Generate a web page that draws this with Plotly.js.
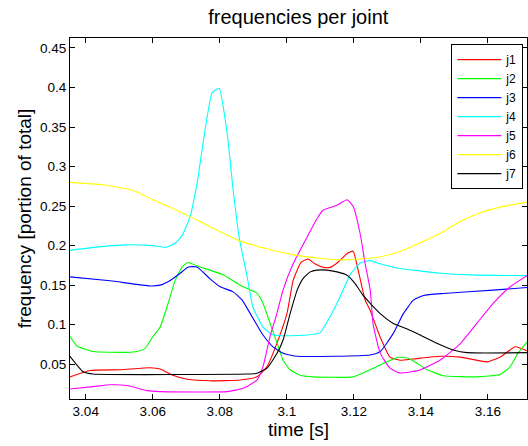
<!DOCTYPE html>
<html>
<head>
<meta charset="utf-8">
<script src="https://cdn.plot.ly/plotly-3.0.1.min.js"></script>
<style>html,body{margin:0;padding:0;background:#fff;}#chart{width:528px;height:446px;}</style>
</head>
<body>
<div id="chart"></div>
<script>
// ---- data ----
const seriesNames = ["j1","j2","j3","j4","j5","j6","j7"];
const seriesColors = ["#ff0000","#00ff00","#0000ff","#00ffff","#ff00ff","#ffff00","#000000"];

const t1 = [3.0353,3.0413,3.0502,3.0592,3.0622,3.0660,3.0703,3.0771,3.0861,3.0911,3.0941,3.0971,3.1001,3.1019,3.1043,3.1064,3.1084,3.1109,3.1129,3.1153,3.1180,3.1198,3.1213,3.1234,3.1249,3.1279,3.1308,3.1338,3.1378,3.1458,3.1518,3.1598,3.1637,3.1682,3.1717];
const j1 = [0.034,0.042,0.043,0.0455,0.044,0.036,0.031,0.029,0.030,0.034,0.047,0.077,0.115,0.156,0.179,0.183,0.177,0.1725,0.1725,0.179,0.190,0.193,0.169,0.131,0.118,0.084,0.059,0.055,0.0566,0.060,0.059,0.053,0.059,0.072,0.067];

const t2 = [3.0353,3.0374,3.0422,3.0523,3.0553,3.0577,3.0601,3.0622,3.0643,3.0667,3.0688,3.0705,3.0741,3.0771,3.0810,3.0861,3.0891,3.0911,3.0929,3.0950,3.0971,3.0989,3.1010,3.1040,3.1079,3.1198,3.1249,3.1299,3.1333,3.1363,3.1389,3.1419,3.1467,3.1567,3.1637,3.1667,3.1690,3.1717];
const j2 = [0.085,0.073,0.066,0.065,0.066,0.070,0.085,0.097,0.123,0.156,0.173,0.1787,0.173,0.169,0.163,0.150,0.144,0.140,0.127,0.102,0.077,0.055,0.043,0.036,0.034,0.034,0.043,0.053,0.0587,0.0575,0.051,0.043,0.0355,0.034,0.037,0.047,0.064,0.078];

const t3 = [3.0353,3.0473,3.0592,3.0622,3.0652,3.0682,3.0706,3.0732,3.0771,3.0801,3.0840,3.0867,3.0891,3.0920,3.0929,3.0959,3.0989,3.1031,3.1249,3.1279,3.1318,3.1348,3.1378,3.1408,3.1467,3.1616,3.1717];
const j3 = [0.1605,0.1555,0.149,0.150,0.156,0.165,0.173,0.173,0.158,0.148,0.1415,0.131,0.114,0.093,0.087,0.072,0.0638,0.060,0.0616,0.066,0.089,0.114,0.131,0.137,0.1395,0.1437,0.147];

const t4 = [3.0353,3.0450,3.0520,3.0600,3.0640,3.0667,3.0688,3.0712,3.0732,3.0777,3.0798,3.0822,3.0840,3.0858,3.0882,3.0899,3.0929,3.0959,3.1001,3.1061,3.1100,3.1129,3.1159,3.1189,3.1219,3.1249,3.1278,3.1338,3.1398,3.1458,3.1547,3.1717];
const j4 = [0.194,0.199,0.201,0.200,0.198,0.203,0.213,0.237,0.278,0.393,0.399,0.342,0.270,0.210,0.160,0.122,0.097,0.087,0.086,0.087,0.090,0.110,0.135,0.163,0.178,0.181,0.177,0.171,0.168,0.165,0.163,0.162];

const t5 = [3.0353,3.0422,3.0473,3.0523,3.0583,3.0622,3.0822,3.0870,3.0911,3.0929,3.0950,3.0971,3.0989,3.1019,3.1061,3.1090,3.1109,3.1150,3.1180,3.1198,3.1219,3.1234,3.1249,3.1258,3.1279,3.1308,3.1338,3.1398,3.1458,3.1518,3.1567,3.1616,3.1667,3.1717];
const j5 = [0.0187,0.0216,0.024,0.023,0.0166,0.0153,0.0153,0.0196,0.030,0.047,0.085,0.115,0.144,0.177,0.211,0.234,0.245,0.251,0.258,0.2497,0.215,0.177,0.144,0.100,0.064,0.045,0.039,0.0427,0.0553,0.076,0.1016,0.127,0.148,0.162];

const t6 = [3.0353,3.0450,3.0540,3.0600,3.0660,3.0710,3.0780,3.0860,3.0950,3.1025,3.1100,3.1160,3.1220,3.1280,3.1340,3.1400,3.1460,3.1520,3.1580,3.1640,3.1717];
const j6 = [0.280,0.277,0.270,0.258,0.247,0.237,0.222,0.206,0.195,0.188,0.184,0.182,0.183,0.186,0.193,0.204,0.216,0.231,0.242,0.249,0.255];

const t7 = [3.0353,3.0392,3.0422,3.0882,3.0911,3.0941,3.0971,3.0989,3.1010,3.1031,3.1049,3.1070,3.1090,3.1120,3.1150,3.1180,3.1204,3.1228,3.1249,3.1279,3.1318,3.1358,3.1398,3.1448,3.1497,3.1538,3.1717];
const j7 = [0.0600,0.0405,0.0376,0.0376,0.0385,0.045,0.0638,0.0806,0.114,0.1437,0.1585,0.1668,0.169,0.169,0.1668,0.1626,0.152,0.137,0.127,0.114,0.1016,0.095,0.087,0.0764,0.068,0.0646,0.0646];

const xTickVals = [3.04,3.06,3.08,3.1,3.12,3.14,3.16];
const xTickText = ["3.04","3.06","3.08","3.1","3.12","3.14","3.16"];
const yTickVals = [0.05,0.1,0.15,0.2,0.25,0.3,0.35,0.4,0.45];
const yTickText = ["0.05","0.1","0.15","0.2","0.25","0.3","0.35","0.4","0.45"];

const xs = [t1,t2,t3,t4,t5,t6,t7];
const ys = [j1,j2,j3,j4,j5,j6,j7];

const traces = seriesNames.map((n,i)=>({
  x: xs[i], y: ys[i], name: n, type: 'scatter', mode: 'lines',
  line: {color: seriesColors[i], width: 1.1, shape: 'spline', smoothing: 0.45}
}));

const font = "Liberation Sans, Arial, Helvetica, sans-serif";
const axisCommon = {
  showline: true, linecolor: '#000', linewidth: 1, mirror: 'allticks',
  ticks: 'inside', ticklen: 5, tickcolor: '#000', showgrid: false, zeroline: false,
  tickfont: {family: font, size: 13.5, color: '#000'}
};

const layout = {
  width: 528, height: 446,
  margin: {l: 70, r: 1, t: 38, b: 47},
  paper_bgcolor: '#fff', plot_bgcolor: '#fff',
  font: {family: font, color: '#000'},
  title: {text: 'frequencies per joint', font: {family: font, size: 20, color: '#000'}, x: 0.565, xanchor: 'center', y: 0.962, yanchor: 'middle'},
  xaxis: Object.assign({}, axisCommon, {
    range: [3.0353, 3.1717], tickvals: xTickVals, ticktext: xTickText,
    title: {text: 'time [s]', font: {family: font, size: 19, color: '#000'}, standoff: 1}
  }),
  yaxis: Object.assign({}, axisCommon, {
    range: [0.006, 0.4626], tickvals: yTickVals, ticktext: yTickText,
    title: {text: 'frequency [portion of total]', font: {family: font, size: 19, color: '#000'}, standoff: 3}
  }),
  showlegend: true,
  legend: {
    x: 0.992, xanchor: 'right', y: 0.983, yanchor: 'top',
    bgcolor: '#fff', bordercolor: '#000', borderwidth: 1,
    font: {family: font, size: 12, color: '#000'},
    tracegroupgap: 0, itemwidth: 44
  }
};

Plotly.newPlot('chart', traces, layout, {staticPlot: true, displayModeBar: false});
</script>
</body>
</html>
